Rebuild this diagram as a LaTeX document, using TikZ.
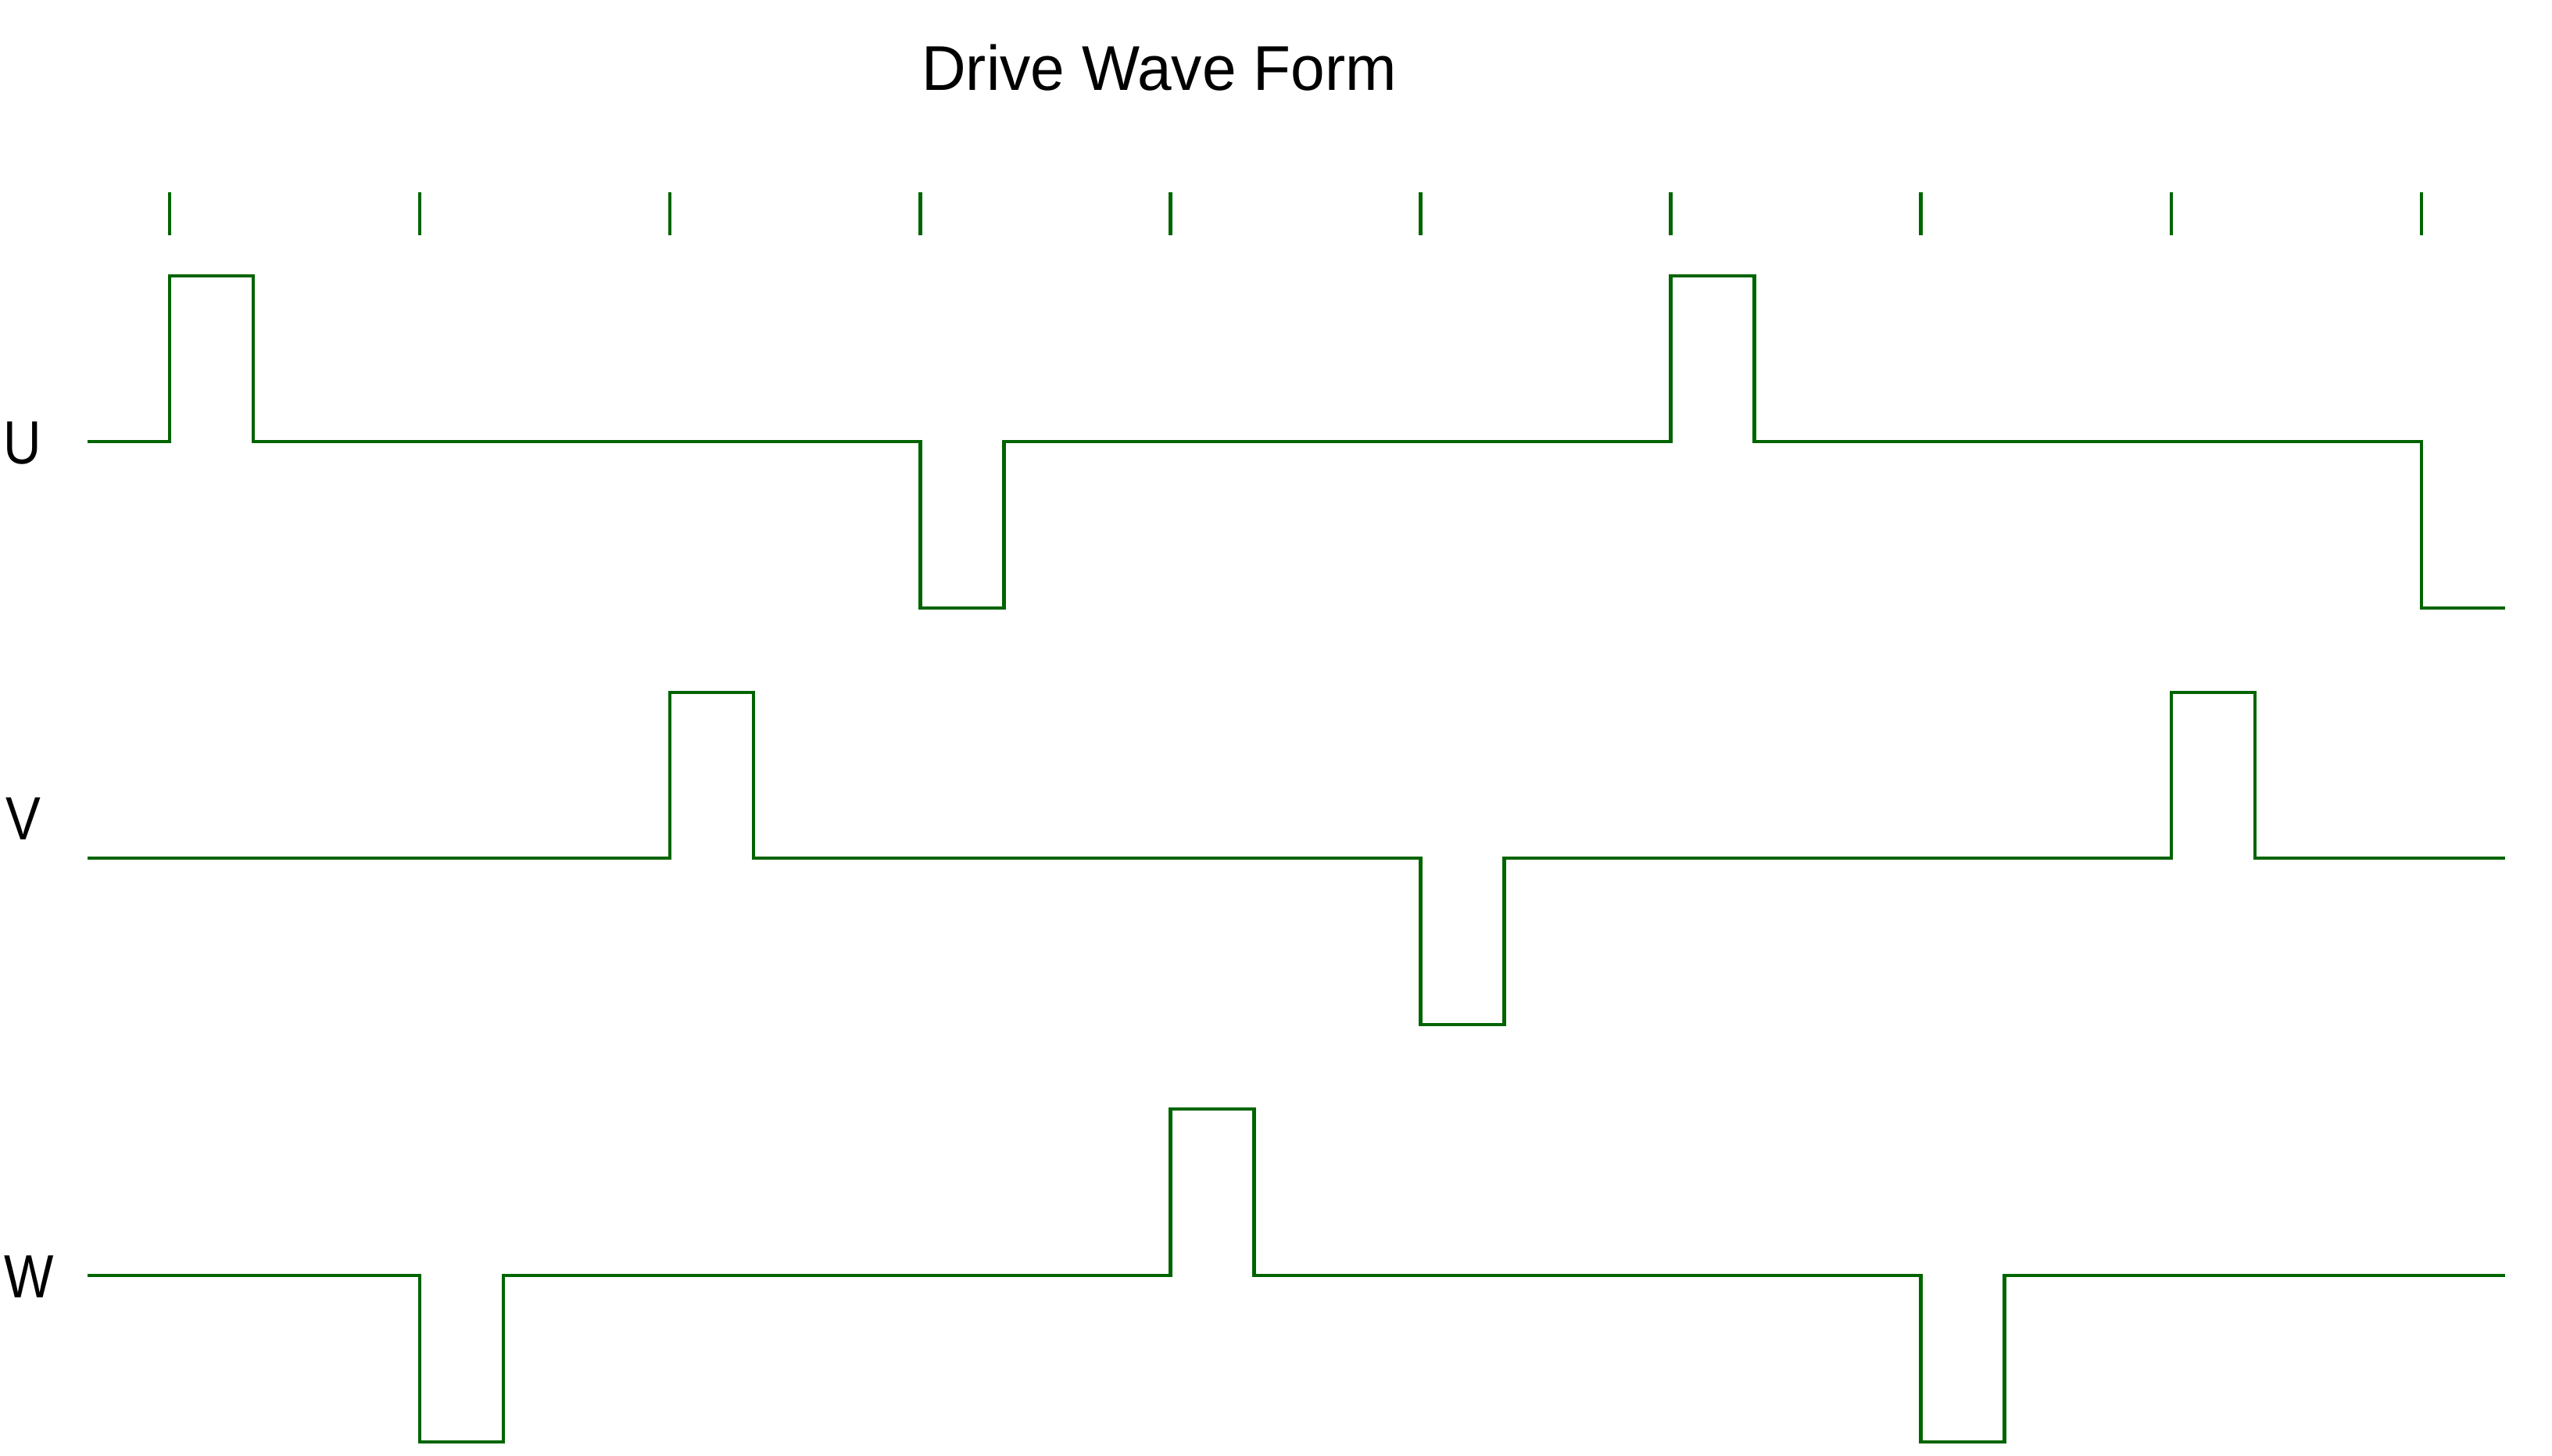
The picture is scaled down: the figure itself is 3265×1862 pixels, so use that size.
\documentclass[tikz,border=0pt]{standalone}
\usepackage{fontspec}
\setmainfont{Liberation Sans}
\definecolor{wavegreen}{RGB}{0,100,0}
\tikzset{
  wave/.style={draw=wavegreen, line width=1.3pt, line join=miter},
  tickline/.style={draw=wavegreen, line width=1.3pt},
  titletext/.style={inner sep=0pt, anchor=base, xscale=0.97, font=\fontsize{23pt}{27pt}\selectfont},
  sigtext/.style={inner sep=0pt, anchor=base west, xscale=0.86, font=\fontsize{22.2pt}{26pt}\selectfont}
}
\begin{document}
\begin{tikzpicture}[x=0.01cm, y=-0.01cm]
\useasboundingbox[fill=white] (0,0) rectangle (3265,1862);
% title
\node[titletext] (title) at (1483,115) {Drive Wave Form};
% labels
\node[sigtext] (labU) at (4,593) {U};
\node[sigtext] (labV) at (7,1074) {V};
\node[sigtext] (labW) at (5,1660) {W};
% ticks
\foreach \k in {0,...,9} {
  \draw[tickline] ({217+320.1*\k},246) -- ({217+320.1*\k},301);
}
% U
\draw[wave] (112,565) -- (217,565) -- (217,353) -- (324,353) -- (324,565)
  -- (1177.3,565) -- (1177.3,778) -- (1284.3,778) -- (1284.3,565)
  -- (2137.6,565) -- (2137.6,353) -- (2244.6,353) -- (2244.6,565)
  -- (3097.9,565) -- (3097.9,778) -- (3205,778);
% V
\draw[wave] (112,1098) -- (857.2,1098) -- (857.2,886) -- (964.2,886) -- (964.2,1098)
  -- (1817.5,1098) -- (1817.5,1311) -- (1924.5,1311) -- (1924.5,1098)
  -- (2777.8,1098) -- (2777.8,886) -- (2884.8,886) -- (2884.8,1098)
  -- (3205,1098);
% W
\draw[wave] (112,1632) -- (537.1,1632) -- (537.1,1845) -- (644.1,1845) -- (644.1,1632)
  -- (1497.4,1632) -- (1497.4,1419) -- (1604.4,1419) -- (1604.4,1632)
  -- (2457.7,1632) -- (2457.7,1845) -- (2564.7,1845) -- (2564.7,1632)
  -- (3205,1632);
\end{tikzpicture}
\end{document}
